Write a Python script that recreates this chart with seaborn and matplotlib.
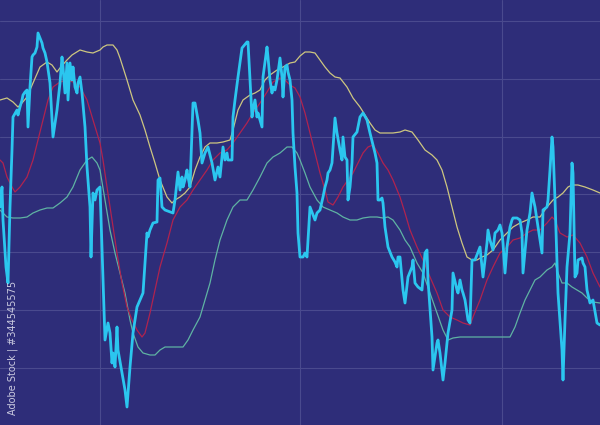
import pandas as pd
import matplotlib
matplotlib.use("Agg")
import matplotlib.pyplot as plt
import seaborn as sns

# price series (fast, noisy)
price_day = [0, 2, 3, 6, 8, 10, 12, 13, 17, 18,
             20, 22, 23, 25, 27, 28, 30, 32, 33, 35,
             37, 38, 40, 42, 43, 45, 47, 50, 53, 57,
             60, 62, 63, 65, 67, 68, 70, 72, 73, 75,
             77, 78, 80, 82, 85, 87, 90, 91, 93, 95,
             97, 100,
             105, 108, 110, 112, 113, 115, 117, 118, 122, 125,
             127, 130, 133, 137, 140, 143, 147, 148, 150, 153,
             157, 158, 160, 162, 165, 173, 175, 178, 180, 182,
             183, 185, 187, 188, 190, 193, 195, 198, 200,
             202, 205, 208, 212, 215, 218, 220, 223, 225, 227,
             228, 232, 233, 235, 238, 242, 247, 248, 250, 252,
             253, 255, 257, 258, 262, 263, 267, 268, 270, 272,
             273, 275, 277, 280, 282, 283, 285, 287, 288, 290,
             292, 293, 295, 297, 298, 300,
             303, 305, 307, 310, 315, 317, 320, 323, 325, 327,
             328, 330, 332, 335, 337, 340, 342, 343, 345, 347,
             348, 350, 352, 353, 357, 360, 363, 367, 370, 375,
             377, 378, 380, 382, 383, 385, 388, 392, 395, 397,
             398, 400,
             403, 405, 408, 412, 413, 415, 418, 422, 425, 427,
             428, 432, 433, 437, 438, 440, 443, 445, 448, 452,
             453, 457, 458, 460, 462, 463, 465, 468, 470, 472,
             475, 480, 483, 487, 488, 490, 493, 495, 498,
             500, 502, 503, 505, 507, 510, 512, 513, 517, 520,
             522, 523, 527, 530, 532, 535, 538, 542, 543, 547,
             548, 550, 552, 553, 555, 558, 562, 563, 565, 567,
             570, 572, 573, 575, 577, 578, 582, 583, 585, 587,
             590, 593, 597, 600]
price = [218, 238, 205, 158, 142, 218, 275, 308, 315, 310,
         318, 325, 330, 333, 335, 298, 338, 368, 370, 372,
         378, 392, 387, 382, 377, 372, 363, 342, 288, 315,
         342, 368, 358, 332, 362, 325, 362, 345, 358, 338,
         332, 342, 348, 332, 298, 258, 218, 168, 232, 225,
         235, 238,
         85, 102, 92, 62, 72, 58, 98, 75, 52, 35,
         18, 58, 92, 118, 125, 132, 192, 188, 195, 202,
         203, 245, 247, 218, 215, 212, 225, 253, 235, 248,
         238, 245, 255, 248, 238, 322, 322, 305, 292,
         262, 272, 278, 262, 245, 258, 248, 278, 265, 272,
         265, 265, 308, 325, 348, 377, 383, 383, 345, 308,
         315, 325, 308, 312, 298, 348, 378, 368, 345, 332,
         338, 335, 345, 367, 348, 328, 358, 360, 353, 345,
         325, 292, 258, 232, 192, 168,
         168, 172, 168, 218, 205, 212, 215, 228, 238, 245,
         252, 255, 262, 307, 292, 275, 265, 288, 268, 265,
         225, 238, 262, 288, 293, 308, 312, 305, 292, 272,
         262, 225, 225, 227, 222, 198, 178, 168, 163, 158,
         168, 168,
         135, 122, 148, 158, 165, 142, 138, 135, 172, 175,
         145, 88, 55, 82, 85, 72, 45, 62, 92, 115,
         152, 135, 132, 145, 135, 132, 125, 105, 102, 165,
         165, 178, 148, 182, 195, 185, 175, 192, 195,
         200, 192, 182, 152, 178, 198, 205, 207, 207, 205,
         192, 152, 195, 212, 232, 218, 198, 172, 215, 218,
         225, 255, 288, 278, 225, 132, 75, 45, 105, 158,
         192, 262, 252, 148, 152, 165, 167, 162, 158, 135,
         122, 125, 102, 100]

# upper band (yellow)
upper_day = [0, 7, 13, 18, 22, 27, 33, 40, 47, 52,
             57, 60, 67, 72, 80, 87, 93, 100, 103, 107,
             113, 117, 120, 127, 133, 140, 145, 150, 155, 160,
             167, 172, 175, 180, 185, 190, 195, 200, 205, 210,
             217, 223, 230, 233, 238, 243, 250, 255, 260, 265,
             270, 277, 283, 290, 295, 300, 305, 310, 315, 320,
             325, 330, 335, 340, 347, 353, 360, 365, 370, 375,
             380, 387, 393, 400, 405, 412, 418, 425, 432, 437,
             442, 447, 452, 457, 462, 467, 472, 477, 482, 487,
             493, 500, 507, 513, 520, 527, 533, 540, 547, 553,
             558, 563, 568, 572, 578, 585, 593, 600]
upper = [325, 327, 323, 318, 322, 328, 342, 358, 363, 360,
         353, 357, 365, 370, 375, 373, 372, 375, 378, 380,
         380, 375, 367, 345, 325, 310, 295, 278, 262, 245,
         228, 222, 225, 228, 232, 238, 255, 268, 278, 282,
         282, 283, 285, 295, 315, 325, 330, 332, 335, 345,
         350, 355, 358, 362, 363, 369, 373, 373, 372, 365,
         358, 352, 348, 347, 338, 327, 318, 310, 302, 295,
         292, 292, 292, 293, 295, 293, 285, 275, 270, 265,
         255, 238, 218, 198, 182, 168, 165, 165, 168, 170,
         175, 185, 192, 198, 202, 205, 208, 208, 218, 225,
         228, 232, 238, 240, 240, 238, 235, 232]

# moving average (red)
ma_day = [0, 3, 7, 12, 15, 20, 27, 33, 38, 43,
          48, 53, 60, 67, 73, 80, 87, 93, 100, 103,
          107, 112, 117, 122, 127, 132, 137, 142, 145, 150,
          155, 160, 167, 173, 180, 187, 193, 200, 207, 213,
          220, 227, 233, 240, 247, 253, 260, 267, 273, 280,
          285, 290, 295, 300, 305, 310, 315, 320, 325, 328,
          333, 338, 343, 348, 353, 358, 363, 368, 373, 378,
          383, 388, 393, 400, 405, 410, 417, 423, 430, 437,
          443, 450, 457, 463, 470, 473, 480, 487, 493, 500,
          507, 513, 520, 527, 533, 540, 547, 552, 555, 560,
          567, 573, 580, 587, 593, 600]
ma = [265, 262, 248, 238, 233, 238, 248, 265, 285, 305,
      325, 338, 343, 345, 343, 338, 325, 305, 282, 265,
      238, 205, 172, 142, 118, 105, 95, 88, 92, 112,
      135, 158, 182, 205, 218, 225, 235, 245, 255, 265,
      272, 275, 282, 292, 302, 312, 322, 333, 343, 347,
      345, 340, 337, 328, 312, 292, 272, 252, 235, 223,
      220, 228, 238, 245, 252, 262, 272, 278, 280, 272,
      262, 255, 245, 228, 212, 195, 178, 165, 148, 132,
      115, 108, 105, 102, 100, 108, 125, 145, 158, 172,
      178, 185, 187, 192, 195, 195, 202, 208, 205, 192,
      188, 190, 182, 168, 152, 138]

# lower band (green)
lower_day = [0, 7, 13, 20, 27, 33, 40, 47, 53, 60,
             67, 73, 80, 87, 92, 97, 100, 105, 110, 115,
             120, 125, 130, 133, 138, 143, 150, 155, 160, 165,
             172, 178, 183, 188, 193, 200, 205, 210, 215, 220,
             227, 233, 240, 247, 253, 260, 267, 273, 280, 287,
             292, 297, 300, 305, 310, 317, 323, 330, 337, 343,
             350, 357, 363, 370, 377, 383, 388, 393, 400, 405,
             410, 417, 423, 430, 437, 443, 448, 453, 460, 467,
             473, 483, 493, 500, 510, 515, 520, 525, 530, 535,
             540, 547, 552, 555, 558, 562, 567, 572, 577, 582,
             587, 593, 600]
lower = [215, 208, 207, 207, 208, 212, 215, 217, 217, 222,
         228, 238, 255, 265, 268, 262, 255, 225, 195, 172,
         152, 132, 105, 92, 78, 72, 70, 70, 75, 78,
         78, 78, 78, 85, 95, 108, 125, 142, 165, 185,
         205, 218, 225, 225, 235, 248, 262, 268, 272, 278,
         278, 272, 265, 252, 238, 225, 218, 215, 212, 208,
         205, 205, 207, 208, 208, 207, 208, 205, 195, 185,
         178, 162, 152, 132, 112, 95, 85, 87, 88, 88,
         88, 88, 88, 88, 88, 98, 112, 125, 135, 145,
         148, 155, 158, 162, 152, 142, 142, 138, 135, 132,
         127, 123, 122]

grid_days = [100, 300, 502]
grid_levels = [57, 115, 173, 231, 288, 346, 404]

bg = "#2e2d79"
sns.set_theme(style="dark", rc={"axes.facecolor": bg, "figure.facecolor": bg})

fig = plt.figure(figsize=(6, 4.25), dpi=100)
ax = fig.add_axes([0, 0, 1, 1])

sns.lineplot(x=lower_day, y=lower, ax=ax, color="#5fb3a3", linewidth=0.9, estimator=None)
sns.lineplot(x=ma_day, y=ma, ax=ax, color="#b0234f", linewidth=0.9, estimator=None)
sns.lineplot(x=upper_day, y=upper, ax=ax, color="#cdc680", linewidth=0.9, estimator=None)
sns.lineplot(x=price_day, y=price, ax=ax, color="#2bc6ef", linewidth=2.0, estimator=None)

ax.set_xlim(0, 600)
ax.set_ylim(0, 425)
ax.set_xticks(grid_days)
ax.set_yticks(grid_levels)
ax.grid(True, color="#4a4a8e", linewidth=0.8)
ax.set_axisbelow(True)
ax.tick_params(length=0, labelbottom=False, labelleft=False)
for s in ax.spines.values():
    s.set_visible(False)
ax.set_xlabel("")
ax.set_ylabel("")

ax.text(13, 10, "Adobe Stock | #344545575", rotation=90, ha="center", va="bottom",
        fontsize=7, color="#e6e6f2", alpha=0.85)

fig.savefig("out.png", dpi=100, facecolor=bg)
